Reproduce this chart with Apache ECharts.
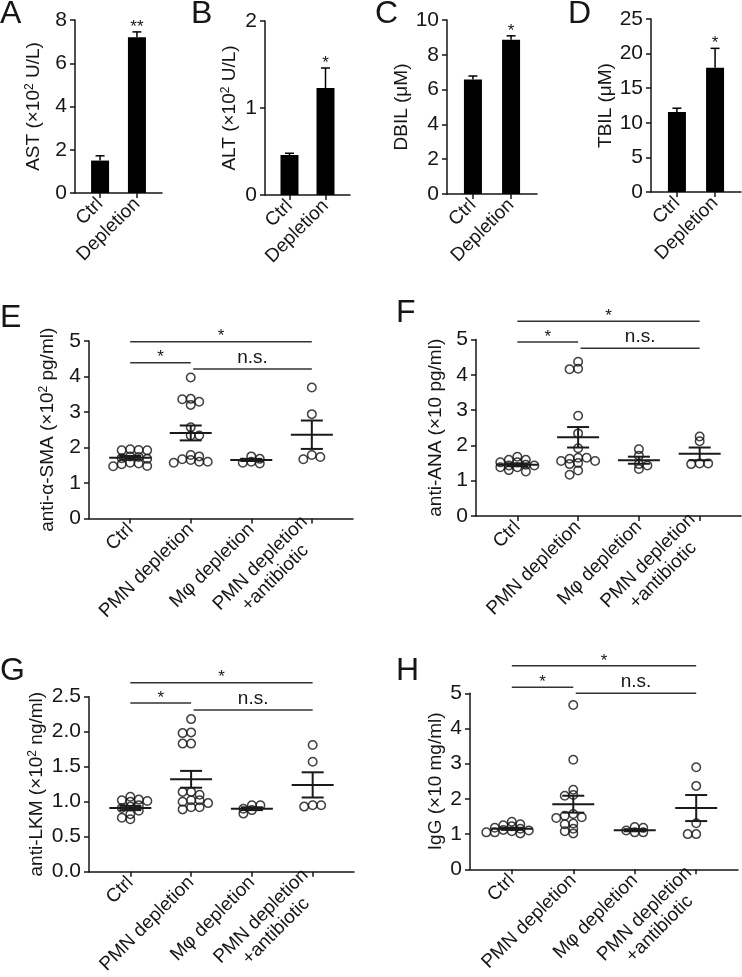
<!DOCTYPE html>
<html><head><meta charset="utf-8">
<script src="https://cdn.jsdelivr.net/npm/echarts@6/dist/echarts.min.js"></script>
<style>html,body{margin:0;padding:0;background:#fff}#c{width:742px;height:977px}</style>
</head><body><div id="c"></div>
<script>
// ---------------- DATA ----------------
const topCats = ['Ctrl', 'Depletion'];
const astVals = [1.5, 7.2];   const astErr = [0.22, 0.25];  const astSig = ['', '**'];
const altVals = [0.46, 1.23]; const altErr = [0.02, 0.23];  const altSig = ['', '*'];
const dbilVals = [6.58, 8.87]; const dbilErr = [0.2, 0.22]; const dbilSig = ['', '*'];
const tbilVals = [11.56, 17.96]; const tbilErr = [0.55, 2.8]; const tbilSig = ['', '*'];
const astAxis = [0, 8, 2]; const altAxis = [0, 2, 1]; const dbilAxis = [0, 10, 2]; const tbilAxis = [0, 25, 5];

const groupCats = ['Ctrl', 'PMN depletion', 'M\u03c6 depletion', 'PMN depletion\n+antibiotic'];

const smaCtrl = [1.95, 1.92, 1.92, 1.93, 1.75, 1.73, 1.70, 1.68, 1.57, 1.53, 1.47, 1.48, 1.55];
const smaPmn  = [3.97, 3.36, 3.20, 3.29, 3.37, 2.57, 2.34, 2.34, 1.79, 1.67, 1.60, 1.57, 1.60, 1.65, 1.75];
const smaMphi = [1.75, 1.60, 1.55, 1.57, 1.68];
const smaAbx  = [3.69, 2.94, 1.79, 1.67, 1.73];
const smaMean = [1.71, 2.41, 1.65, 2.36];
const smaSem  = [0.05, 0.21, 0.03, 0.40];
const smaSigY = [4.98, 4.39, 4.21];

const anaCtrl = [1.52, 1.59, 1.68, 1.59, 1.52, 1.43, 1.38, 1.26, 1.38, 1.43, 1.45, 1.30];
const anaPmn  = [4.17, 4.16, 4.37, 2.84, 2.34, 1.92, 1.65, 1.56, 1.50, 1.47, 1.56, 1.62, 1.65, 1.17, 1.29];
const anaMphi = [1.89, 1.71, 1.47, 1.43, 1.33];
const anaAbx  = [2.25, 2.12, 1.49, 1.47, 1.49];
const anaMean = [1.45, 2.23, 1.58, 1.76];
const anaSem  = [0.04, 0.29, 0.10, 0.18];
const anaSigY = [5.52, 4.93, 4.75];

const lkmCtrl = [1.07, 1.03, 1.01, 1.02, 1.00, 0.95, 0.93, 0.91, 0.87, 0.82, 0.75, 0.77];
const lkmPmn  = [2.18, 1.98, 1.99, 1.83, 1.83, 1.14, 1.10, 1.14, 1.02, 1.00, 0.92, 0.89, 0.92, 0.98, 1.02];
const lkmMphi = [0.95, 0.95, 0.90, 0.83, 0.88];
const lkmAbx  = [1.81, 1.57, 0.95, 0.93, 0.95];
const lkmMean = [0.91, 1.32, 0.90, 1.24];
const lkmSem  = [0.03, 0.12, 0.02, 0.18];
const lkmSigY = [2.70, 2.41, 2.31];

const iggCtrl = [1.35, 1.28, 1.25, 1.22, 1.18, 1.15, 1.12, 1.10, 1.08, 1.05, 1.05, 1.02];
const iggPmn  = [4.67, 3.11, 2.26, 2.09, 2.11, 1.57, 1.48, 1.46, 1.52, 1.30, 1.28, 1.15, 1.08, 1.02];
const iggMphi = [1.20, 1.18, 1.10, 1.05, 1.05];
const iggAbx  = [2.90, 2.37, 1.31, 1.00, 1.00];
const iggMean = [1.15, 1.85, 1.11, 1.74];
const iggSem  = [0.03, 0.24, 0.03, 0.37];
const iggSigY = [5.78, 5.17, 5.00];

const sigFrom = [0, 0, 1];
const sigTo = [3, 1, 3];
const sigLabels = ['*', '*', 'n.s.'];

const smaAxis = [0, 5, 1]; const anaAxis = [0, 5, 1]; const lkmAxis = [0, 2.5, 0.5]; const iggAxis = [0, 5, 1];

// ---------------- LAYOUT / STYLE ----------------
const FONT = '"Liberation Sans", Arial, Helvetica, sans-serif';
const INK = '#161616';
const PAD = 0.68;
const TICK_FS = 21, XLAB_FS = 19, NAME_FS = 19;
const L = {
  A: {left: 75, top: 20, width: 87, height: 173},
  B: {left: 265, top: 21, width: 85, height: 174},
  C: {left: 447, top: 20, width: 90, height: 174},
  D: {left: 651, top: 19, width: 90, height: 173},
  E: {left: 89, top: 341, width: 264, height: 177.5},
  F: {left: 476, top: 339.5, width: 265, height: 176.5},
  G: {left: 89, top: 696.7, width: 265, height: 175},
  H: {left: 470, top: 693.3, width: 268, height: 176}
};

const option = {animation: false, backgroundColor: '#fff', grid: [], xAxis: [], yAxis: [], series: [], graphic: []};

function nameRich(pre, sup, post) {
  return sup ? '{t|' + pre + '}{s|' + sup + '}{t|' + post + '}' : '{t|' + pre + post + '}';
}
const nameStyle = {rich: {
  t: {fontSize: NAME_FS, fontFamily: FONT, color: INK},
  s: {fontSize: 12, fontFamily: FONT, color: INK, verticalAlign: 'top'}
}};

function xAxisCfg(i, cats) {
  const ticks = cats.map((c, k) => k);
  return {
    gridIndex: i, type: 'value', min: -PAD, max: cats.length - 1 + PAD,
    splitLine: {show: false},
    axisLine: {show: true, onZero: false, lineStyle: {color: INK, width: 1.5}},
    axisTick: {show: true, customValues: ticks, length: 5, lineStyle: {color: INK, width: 1.5}},
    axisLabel: {
      customValues: ticks, rotate: 45, margin: 8,
      formatter: v => cats[Math.round(v)].split('\n').map(t => '{a|' + t + '}').join('\n'),
      rich: {a: {align: 'center', fontSize: XLAB_FS, fontFamily: FONT, color: INK, lineHeight: 21}}
    }
  };
}
function yAxisCfg(i, ax, name, gap, fmt) {
  return {
    gridIndex: i, type: 'value', min: ax[0], max: ax[1], interval: ax[2],
    splitLine: {show: false},
    axisLine: {show: true, onZero: false, lineStyle: {color: INK, width: 1.5}},
    axisTick: {show: true, length: 5, lineStyle: {color: INK, width: 1.5}},
    axisLabel: {fontSize: TICK_FS, fontFamily: FONT, color: INK, margin: 8, formatter: fmt || (v => String(v))},
    name: name, nameLocation: 'middle', nameGap: gap, nameTextStyle: nameStyle
  };
}

function topPanel(i, g, vals, errs, sig, ax, name, gap) {
  option.grid.push(Object.assign({containLabel: false, outerBoundsMode: 'none'}, g));
  option.xAxis.push(xAxisCfg(i, topCats));
  option.yAxis.push(yAxisCfg(i, ax, name, gap));
  option.series.push({
    type: 'bar', xAxisIndex: i, yAxisIndex: i, barWidth: 18,
    itemStyle: {color: '#000'}, data: vals.map((v, k) => [k, v])
  });
  option.series.push({
    type: 'custom', xAxisIndex: i, yAxisIndex: i, clip: false, z: 5,
    data: vals.map((v, k) => [k, v, errs[k]]),
    renderItem: (params, api) => {
      const x = api.value(0), v = api.value(1), e = api.value(2);
      const p0 = api.coord([x, v]), p1 = api.coord([x, v + e]);
      const st = {stroke: '#000', lineWidth: 1.5};
      const ch = [
        {type: 'line', shape: {x1: p0[0], y1: p0[1], x2: p1[0], y2: p1[1]}, style: st},
        {type: 'line', shape: {x1: p1[0] - 4.5, y1: p1[1], x2: p1[0] + 4.5, y2: p1[1]}, style: st}
      ];
      const lbl = sig[params.dataIndex];
      if (lbl) ch.push({type: 'text', x: p1[0], y: p1[1] - 5,
        style: {text: lbl, fontSize: 17, fontFamily: FONT, fill: INK, align: 'center', verticalAlign: 'middle'}});
      return {type: 'group', children: ch};
    }
  });
}

// simple beeswarm layout computed from the values (pixel space)
function swarm(values, center, g, ax, nCats) {
  const pyU = g.height / (ax[1] - ax[0]);
  const pxU = g.width / (nCats - 1 + 2 * PAD);
  const dh = 8.5, dv = 4.5;
  const order = values.map((v, k) => k).sort((a, b) => values[b] - values[a]);
  const placed = [];
  const xs = new Array(values.length);
  order.forEach((k, n) => {
    const py = values[k] * pyU;
    let chosen = 0;
    for (let m = 0; m < 80; m += 0.5) {
      const cands = m === 0 ? [0] : (n % 2 ? [m, -m] : [-m, m]);
      let ok = null;
      for (const c of cands) {
        if (placed.every(p => Math.abs(p.py - py) >= dv || Math.abs(p.px - c) >= dh)) { ok = c; break; }
      }
      if (ok !== null) { chosen = ok; break; }
    }
    placed.push({px: chosen, py: py});
    xs[k] = center + chosen / pxU;
  });
  return values.map((v, k) => [xs[k], v]);
}

function bottomPanel(i, g, groups, mean, sem, sigY, ax, name, gap, fmt) {
  option.grid.push(Object.assign({containLabel: false, outerBoundsMode: 'none'}, g));
  option.xAxis.push(xAxisCfg(i, groupCats));
  option.yAxis.push(yAxisCfg(i, ax, name, gap, fmt));
  let pts = [];
  groups.forEach((vals, gi) => { pts = pts.concat(swarm(vals, gi, g, ax, groupCats.length)); });
  option.series.push({
    type: 'scatter', xAxisIndex: i, yAxisIndex: i, symbol: 'circle', symbolSize: 8.5, z: 3,
    itemStyle: {color: 'rgba(255,255,255,0)', borderColor: '#111', borderWidth: 1.5},
    data: pts
  });
  option.series.push({
    type: 'custom', xAxisIndex: i, yAxisIndex: i, clip: false, z: 6,
    data: mean.map((m, k) => [k, m, sem[k]]),
    renderItem: (params, api) => {
      const x = api.value(0), m = api.value(1), s = api.value(2);
      const pm = api.coord([x, m]), pt = api.coord([x, m + s]), pb = api.coord([x, m - s]);
      const st = {stroke: '#1a1a1a', lineWidth: 2};
      return {type: 'group', children: [
        {type: 'line', shape: {x1: pm[0] - 21, y1: pm[1], x2: pm[0] + 21, y2: pm[1]}, style: st},
        {type: 'line', shape: {x1: pt[0], y1: pt[1], x2: pb[0], y2: pb[1]}, style: st},
        {type: 'line', shape: {x1: pt[0] - 11, y1: pt[1], x2: pt[0] + 11, y2: pt[1]}, style: st},
        {type: 'line', shape: {x1: pb[0] - 11, y1: pb[1], x2: pb[0] + 11, y2: pb[1]}, style: st}
      ]};
    }
  });
  option.series.push({
    type: 'custom', xAxisIndex: i, yAxisIndex: i, clip: false, z: 6,
    data: sigY.map((y, k) => [sigFrom[k], sigTo[k], y]),
    renderItem: (params, api) => {
      const lbl = sigLabels[params.dataIndex];
      const a = api.coord([api.value(0), api.value(2)]);
      const b = api.coord([api.value(1), api.value(2)]);
      const x1 = a[0] + (lbl === 'n.s.' ? 2.5 : 0);
      const cx = (x1 + b[0]) / 2;
      const txt = lbl === 'n.s.'
        ? {type: 'text', x: cx, y: a[1] - 2, style: {text: lbl, fontSize: 19, fontFamily: FONT, fill: INK, align: 'center', verticalAlign: 'bottom'}}
        : {type: 'text', x: cx, y: a[1] - 5, style: {text: lbl, fontSize: 17, fontFamily: FONT, fill: INK, align: 'center', verticalAlign: 'middle'}};
      return {type: 'group', children: [
        {type: 'line', shape: {x1: x1, y1: a[1], x2: b[0], y2: b[1]}, style: {stroke: '#333', lineWidth: 1.5}},
        txt
      ]};
    }
  });
}

topPanel(0, L.A, astVals, astErr, astSig, astAxis, nameRich('AST (\u00d710', '2', ' U/L)'), 32);
topPanel(1, L.B, altVals, altErr, altSig, altAxis, nameRich('ALT (\u00d710', '2', ' U/L)'), 26);
topPanel(2, L.C, dbilVals, dbilErr, dbilSig, dbilAxis, nameRich('DBIL (\u03bcM)', '', ''), 29);
topPanel(3, L.D, tbilVals, tbilErr, tbilSig, tbilAxis, nameRich('TBIL (\u03bcM)', '', ''), 35);
bottomPanel(4, L.E, [smaCtrl, smaPmn, smaMphi, smaAbx], smaMean, smaSem, smaSigY, smaAxis,
  nameRich('anti-\u03b1-SMA (\u00d710', '2', ' pg/ml)'), 32);
bottomPanel(5, L.F, [anaCtrl, anaPmn, anaMphi, anaAbx], anaMean, anaSem, anaSigY, anaAxis,
  nameRich('anti-ANA (\u00d710 pg/ml)', '', ''), 31);
bottomPanel(6, L.G, [lkmCtrl, lkmPmn, lkmMphi, lkmAbx], lkmMean, lkmSem, lkmSigY, lkmAxis,
  nameRich('anti-LKM (\u00d710', '2', ' ng/ml)'), 43, v => v.toFixed(1));
bottomPanel(7, L.H, [iggCtrl, iggPmn, iggMphi, iggAbx], iggMean, iggSem, iggSigY, iggAxis,
  nameRich('IgG (\u00d710 mg/ml)', '', ''), 25);

// panel letters
const letters = [['A', 0, -2], ['B', 191, -2], ['C', 375, -2], ['D', 568, -2], ['E', 0, 302], ['F', 396, 297], ['G', 0, 655], ['H', 396, 655]];
letters.forEach(l => option.graphic.push({type: 'text', left: l[1], top: l[2],
  style: {text: l[0], fontSize: 32, fontFamily: FONT, fill: INK}}));

const chart = echarts.init(document.getElementById('c'), null, {renderer: 'canvas'});
chart.setOption(option);
</script></body></html>
